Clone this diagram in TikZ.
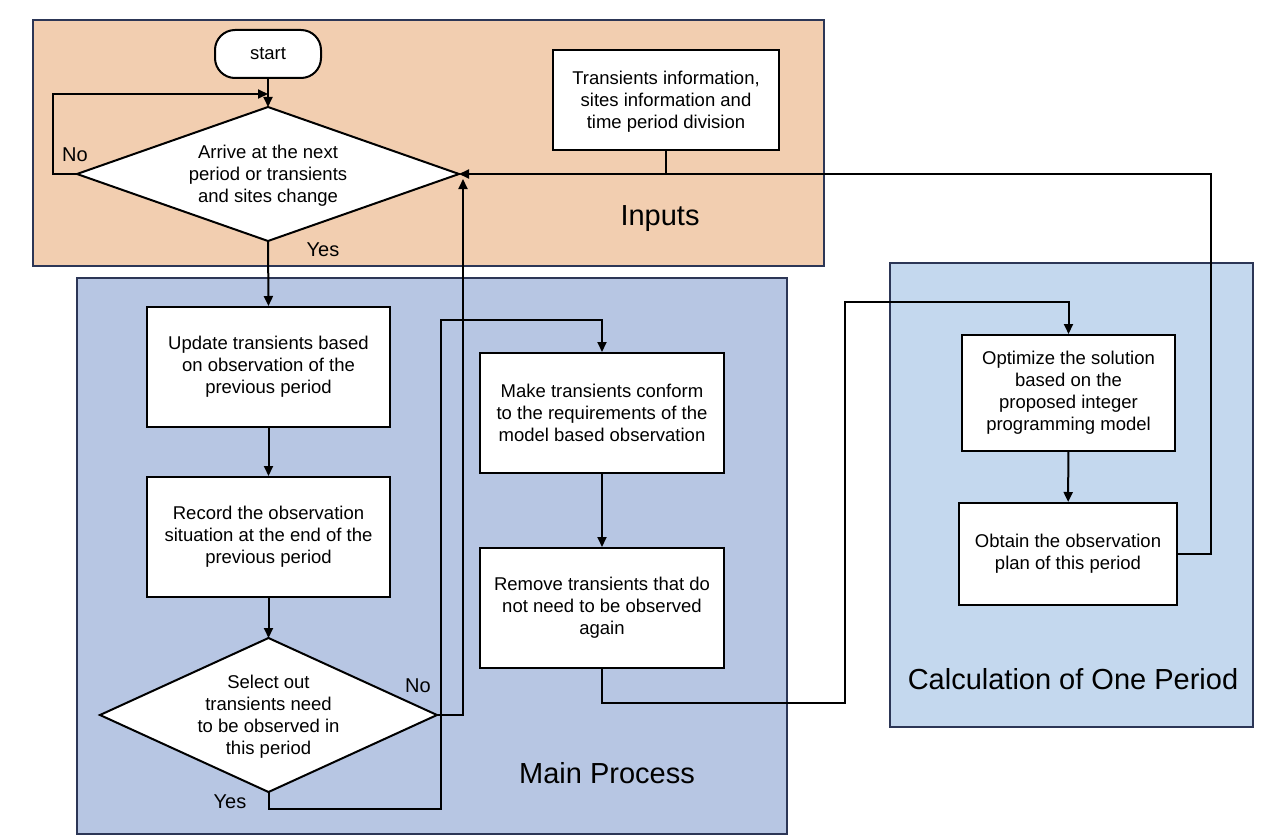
\documentclass[tikz,border=0pt]{standalone}
\usepackage{fontspec}
\setmainfont{Liberation Sans}
\usetikzlibrary{shapes.geometric,arrows.meta}
\definecolor{inpc}{HTML}{F2CEB0}
\definecolor{mainc}{HTML}{B7C6E3}
\definecolor{calcc}{HTML}{C4D8EE}
\definecolor{navy}{HTML}{2C3656}
\begin{document}
\begin{tikzpicture}[x=1pt,y=-1pt,
  panel/.style={draw=navy,line width=2pt},
  box/.style={draw=black,fill=white,line width=2pt,align=center,inner sep=2pt,
    font=\fontsize{18.5}{22}\selectfont},
  dia/.style={draw=black,fill=white,line width=2pt,shape=diamond,inner sep=0pt,outer sep=0pt},
  dtext/.style={align=center,font=\fontsize{18.5}{22}\selectfont,inner sep=0pt,yshift=-2pt},
  lab/.style={font=\fontsize{20}{24}\selectfont},
  big/.style={font=\fontsize{29}{34}\selectfont},
  arr/.style={line width=2pt,-{Triangle[length=10pt,width=9pt]}},
  ln/.style={line width=2pt}]
\useasboundingbox (0,0) rectangle (1288,840);
% panels
\draw[panel,fill=inpc] (33,20) rectangle (824,266);
\draw[panel,fill=mainc] (77,278) rectangle (787,834);
\draw[panel,fill=calcc] (890,263) rectangle (1253,727);
\node[big] (tin) at (660,219) {Inputs};
\node[big] (tmain) at (607,773) {Main Process};
\node[big] (tcalc) at (1073,679) {Calculation of One Period};
% nodes
\node[box,minimum width=106,minimum height=48,rounded corners=20pt] (start) at (268,54) {start};
\node[dia,minimum width=382,minimum height=134,
  label={[dtext]center:{Arrive at the next\\period or transients\\and sites change}}] (d1) at (268,174) {};
\node[box,minimum width=226,minimum height=100,text depth=-4pt] (info) at (666,100) {Transients information,\\sites information and\\time period division};
\node[box,minimum width=243,minimum height=120] (upd) at (268.5,367) {\raisebox{-2pt}{}Update transients based\\on observation of the\\previous period};
\node[box,minimum width=243,minimum height=120] (rec) at (268.5,537) {Record the observation\\situation at the end of the\\previous period};
\node[dia,minimum width=337,minimum height=154,
  label={[dtext]center:{Select out\\transients need\\to be observed in\\this period}}] (d2) at (268.5,715) {};
\node[box,minimum width=244,minimum height=120] (mk) at (602,413) {Make transients conform\\to the requirements of the\\model based observation};
\node[box,minimum width=244,minimum height=120] (rem) at (602,608) {Remove transients that do\\not need to be observed\\again};
\node[box,minimum width=213,minimum height=116] (opt) at (1068.5,393) {Optimize the solution\\based on the\\proposed integer\\programming model};
\node[box,minimum width=218,minimum height=102] (obt) at (1068,554) {Obtain the observation\\plan of this period};
% labels
\node[lab] (no1) at (75,155) {No};
\node[lab] (yes1) at (323,250) {Yes};
\node[lab] (no2) at (418,686) {No};
\node[lab] (yes2) at (230,802) {Yes};
% connectors
\coordinate (loopend) at (268,94);
\coordinate (upend) at (463,179);
\draw[arr] (start) -- (d1.north);
\draw[arr] (d1.west) -- (53,174) -- (53,94) -- (loopend);
\draw[arr] (d1.south) -- (upd.north);
\draw[arr] (upd) -- (rec);
\draw[arr] (rec) -- (d2.north);
\draw[arr] (d2.east) -| (upend);
\draw[arr] (d2.south) |- (441,809) -- (441,320) -| (mk.north);
\draw[arr] (mk) -- (rem);
\draw[arr] (rem.south) |- (845,703) -- (845,302) -| (opt.north);
\draw[arr] (opt) -- (obt);
\draw[arr] (obt.east) -| (1211,174) -- (d1.east);
\draw[ln] (info.south) -- (info.south |- d1.east);
\end{tikzpicture}
\end{document}
